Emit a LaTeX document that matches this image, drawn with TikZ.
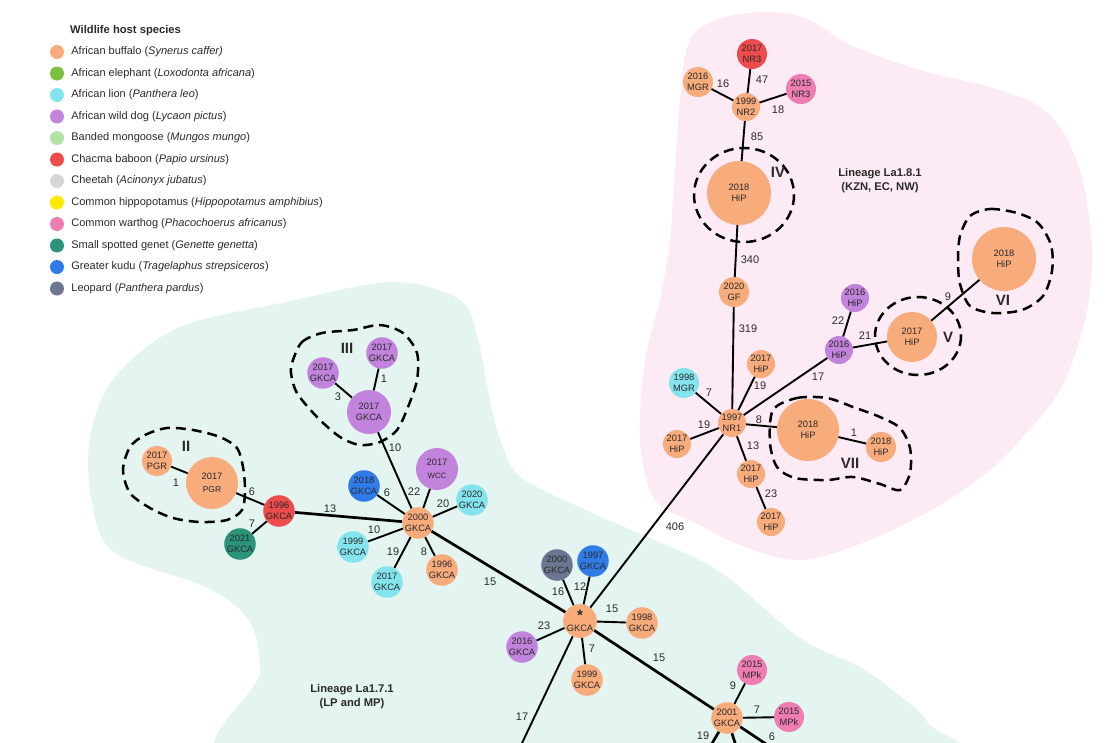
\documentclass[tikz,border=0pt]{standalone}
\usepackage{fontspec}
\setmainfont{Liberation Sans}
\usepackage{xcolor}
\usetikzlibrary{positioning}

\definecolor{buffalo}{HTML}{F8AB7B}
\definecolor{elephant}{HTML}{7BC142}
\definecolor{lion}{HTML}{84E4EE}
\definecolor{wilddog}{HTML}{C283DC}
\definecolor{mongoose}{HTML}{B3E2A6}
\definecolor{baboon}{HTML}{EE4C4C}
\definecolor{cheetah}{HTML}{D6D6D6}
\definecolor{hippo}{HTML}{FFEA00}
\definecolor{warthog}{HTML}{EE7DB2}
\definecolor{genet}{HTML}{2A937A}
\definecolor{kudu}{HTML}{2F7CE8}
\definecolor{leopard}{HTML}{6D7690}
\definecolor{lineagegreen}{HTML}{E4F4F0}
\definecolor{lineagepink}{HTML}{FCEBF4}
\definecolor{inktext}{HTML}{2A2A2A}

\newcommand\hostfont{\fontsize{9.3}{10.8}\selectfont}
\newcommand\distfont{\fontsize{11}{12}\selectfont}
\newcommand\legfont{\fontsize{11}{12}\selectfont}

\tikzset{
  host/.style={circle, inner sep=0pt, minimum size=30pt, align=center,
    font=\hostfont, text=inktext},
  link/.style={line width=1.9pt},
  trunk/.style={line width=2.7pt},
  cladering/.style={line width=2.5pt, dash pattern=on 10pt off 6pt},
  dist/.style={font=\distfont, text=inktext, inner sep=0pt},
  clade/.style={font=\fontsize{15}{15}\selectfont\bfseries, text=inktext},
  legdot/.style={circle, inner sep=0pt, minimum size=14pt},
  legtext/.style={font=\legfont, text=inktext, inner sep=0pt, anchor=west},
  lineage/.style={font=\fontsize{11.2}{14}\selectfont\bfseries, align=center, text=inktext}
}

\begin{document}
\begin{tikzpicture}[x=1pt, y=-1pt]
\useasboundingbox (0,0) rectangle (1110,742);
\clip (0,0) rectangle (1110,742);
\fill[white] (0,0) rectangle (1110,742);

% lineage areas
\fill[lineagegreen] plot[smooth cycle, tension=0.55] coordinates {
  (392,282) (460,300) (478,340) (490,400) (502,445) (522,478) (590,512)
  (650,538) (720,572) (800,638) (860,667) (895,692) (928,723) (945,780)
  (258,780) (260,672) (250,622) (208,588) (115,553) (92,503) (90,437)
  (115,377) (180,327) (287,302)};
\fill[lineagepink] plot[smooth cycle, tension=0.55] coordinates {
  (690,40) (722,18) (770,12) (810,20) (850,45) (920,70) (1000,90)
  (1050,115) (1080,170) (1092,250) (1085,320) (1060,390) (1020,440)
  (990,470) (940,505) (870,540) (800,560) (740,545) (700,525) (655,500)
  (640,440) (645,360) (660,300) (670,240) (675,170) (680,100)};

% legend
\node[legtext, font=\fontsize{11.2}{12}\selectfont\bfseries] (keytitle) at (70,31) {Wildlife host species};
\foreach \c/\t [count=\i] in {
  buffalo/{African buffalo (\textit{Synerus caffer)}},
  elephant/{African elephant (\textit{Loxodonta africana})},
  lion/{African lion (\textit{Panthera leo})},
  wilddog/{African wild dog (\textit{Lycaon pictus})},
  mongoose/{Banded mongoose (\textit{Mungos mungo})},
  baboon/{Chacma baboon (\textit{Papio ursinus})},
  cheetah/{Cheetah (\textit{Acinonyx jubatus})},
  hippo/{Common hippopotamus (\textit{Hippopotamus amphibius})},
  warthog/{Common warthog (\textit{Phacochoerus africanus})},
  genet/{Small spotted genet (\textit{Genette genetta})},
  kudu/{Greater kudu (\textit{Tragelaphus strepsiceros})},
  leopard/{Leopard (\textit{Panthera pardus})}} {
  \node[legdot, fill=\c] (key\i) at (57,{52+21.5*(\i-1)}) {};
  \node[legtext, right=7pt of key\i] (keytext\i) {\t};
}

\node[lineage] (lin18) at (880,181) {Lineage La1.8.1\\(KZN, EC, NW)};
\node[lineage] (lin17) at (352,697) {Lineage La1.7.1\\(LP and MP)};

% clades
\draw[cladering] (744,195) ellipse [x radius=50, y radius=47];
\draw[cladering] (918,336) ellipse [x radius=43, y radius=39];
\draw[cladering] plot[smooth cycle] coordinates {
  (970,216) (990,209) (1017,213) (1038,223) (1051,245) (1052,271) (1043,296)
  (1022,310) (993,313) (970,306) (960,284) (958,260) (960,236)};
\draw[cladering] plot[smooth cycle] coordinates {
  (773,410) (797,398) (827,398) (853,407) (880,417) (900,428) (910,448)
  (910,473) (900,490) (880,484) (853,477) (827,480) (795,478) (777,467)
  (770,443)};
\draw[cladering] plot[smooth cycle] coordinates {
  (130,447) (145,435) (167,428) (193,430) (220,437) (237,448) (243,467)
  (245,490) (242,510) (227,520) (200,522) (173,518) (150,508) (130,493)
  (123,470)};
\draw[cladering] plot[smooth cycle] coordinates {
  (293,360) (302,342) (322,333) (353,330) (380,325) (403,333) (417,353)
  (417,380) (408,407) (397,430) (380,442) (360,445) (340,437) (317,417)
  (297,393) (291,373)};

% La1.8.1 hosts
\node[host, fill=baboon]  (nr3a)  at (752,54)  {2017\\NR3};
\node[host, fill=buffalo] (mgr16) at (698,82)  {2016\\MGR};
\node[host, fill=warthog] (nr3b)  at (801,89)  {2015\\NR3};
\node[host, fill=buffalo, minimum size=28pt] (nr2) at (746,107) {1999\\NR2};
\node[host, fill=buffalo, minimum size=64pt] (hipiv) at (739,193) {2018\\HiP};
\node[host, fill=buffalo] (gf20)  at (734,292) {2020\\GF};
\node[host, fill=buffalo, minimum size=28pt] (nr1) at (732,423) {1997\\NR1};
\node[host, fill=lion]    (mgr98) at (684,383) {1998\\MGR};
\node[host, fill=buffalo, minimum size=28pt] (hipup) at (761,364) {2017\\HiP};
\node[host, fill=buffalo, minimum size=28pt] (hipleft) at (677,444) {2017\\HiP};
\node[host, fill=buffalo, minimum size=28pt] (hipdown) at (751,474) {2017\\HiP};
\node[host, fill=buffalo, minimum size=28pt] (hiplow) at (771,522) {2017\\HiP};
\node[host, fill=buffalo, minimum size=62pt] (hipvii) at (808,430) {2018\\HiP};
\node[host, fill=buffalo] (hipvs) at (881,447) {2018\\HiP};
\node[host, fill=wilddog, minimum size=28pt] (wdhip) at (839,350) {2016\\HiP};
\node[host, fill=wilddog, minimum size=28pt] (wdhiptop) at (855,298) {2016\\HiP};
\node[host, fill=buffalo, minimum size=50pt] (hipv) at (912,337) {2017\\HiP};
\node[host, fill=buffalo, minimum size=64pt] (hipvi) at (1004,259) {2018\\HiP};

% La1.7.1 hosts
\node[host, fill=buffalo] (pgrs)  at (157,461) {2017\\PGR};
\node[host, fill=buffalo, minimum size=52pt] (pgrb) at (212,483) {2017\\[2pt]{\fontsize{8.5}{9}\selectfont PGR}};
\node[host, fill=baboon]  (gk96r) at (279,511) {1996\\GKCA};
\node[host, fill=genet]   (gk21)  at (240,544) {2021\\GKCA};
\node[host, fill=wilddog] (wdtop) at (382,353) {2017\\GKCA};
\node[host, fill=wilddog] (wdleft) at (323,373) {2017\\GKCA};
\node[host, fill=wilddog, minimum size=44pt] (wdbig) at (369,412) {2017\\GKCA};
\node[host, fill=wilddog, minimum size=42pt] (wcc) at (437,469) {2017\\[2pt]{\fontsize{7.8}{8}\selectfont WCC}};
\node[host, fill=kudu]    (kd18)  at (364,486) {2018\\GKCA};
\node[host, fill=lion]    (li20)  at (472,500) {2020\\GKCA};
\node[host, fill=buffalo] (gk00)  at (418,523) {2000\\GKCA};
\node[host, fill=lion]    (li99)  at (353,547) {1999\\GKCA};
\node[host, fill=lion]    (li17)  at (387,582) {2017\\GKCA};
\node[host, fill=buffalo] (bf96)  at (442,570) {1996\\GKCA};
\node[host, fill=leopard] (lp00)  at (557,565) {2000\\GKCA};
\node[host, fill=kudu]    (kd97)  at (593,561) {1997\\GKCA};
\node[host, fill=buffalo] (root)  at (580,621) {{\fontsize{15}{8}\selectfont\bfseries *}\\GKCA};
\node[host, fill=buffalo] (bf98)  at (642,623) {1998\\GKCA};
\node[host, fill=wilddog] (wd16)  at (522,647) {2016\\GKCA};
\node[host, fill=buffalo] (bf99)  at (587,680) {1999\\GKCA};
\node[host, fill=buffalo] (gk01)  at (727,718) {2001\\GKCA};
\node[host, fill=warthog] (mpka)  at (752,670) {2015\\MPk};
\node[host, fill=warthog] (mpkb)  at (789,717) {2015\\MPk};
\coordinate (offa) at (514,760);
\coordinate (offb) at (707,752);
\coordinate (offc) at (738,752);
\coordinate (offd) at (790,760);

\draw[link]
  (nr2) edge (nr3a) (nr2) edge (mgr16) (nr2) edge (nr3b) (nr2) edge (hipiv)
  (hipiv) edge (gf20) (gf20) edge (nr1) (nr1) edge (mgr98) (nr1) edge (hipup)
  (nr1) edge (hipleft) (nr1) edge (hipdown) (hipdown) edge (hiplow)
  (nr1) edge (hipvii) (hipvii) edge (hipvs) (nr1) edge (wdhip)
  (wdhip) edge (wdhiptop) (wdhip) edge (hipv) (hipv) edge (hipvi)
  (nr1) edge (root)
  (pgrs) edge (pgrb) (pgrb) edge (gk96r) (gk96r) edge (gk21)
  (gk00) edge (wdbig) (wdbig) edge (wdtop) (wdbig) edge (wdleft)
  (gk00) edge (kd18) (gk00) edge (wcc) (gk00) edge (li20) (gk00) edge (li99)
  (gk00) edge (li17) (gk00) edge (bf96)
  (root) edge (lp00) (root) edge (kd97) (root) edge (bf98) (root) edge (wd16)
  (root) edge (bf99) (root) edge (offa)
  (gk01) edge (mpka) (gk01) edge (mpkb);
\draw[trunk]
  (gk96r) edge (gk00) (gk00) edge (root) (root) edge (gk01)
  (gk01) edge (offb) (gk01) edge (offc) (gk01) edge (offd);

% SNP distances
\foreach \x/\y/\t [count=\i] in {
  723/84/16, 762/80/47, 778/110/18, 757/137/85, 750/260/340, 748/329/319,
  709/393/7, 760/386/19, 818/377/17, 838/321/22, 865/336/21, 948/297/9,
  759/420/8, 704/425/19, 753/446/13, 854/433/1, 771/494/23, 675/527/406,
  176/483/1, 252/492/6, 252/524/7, 330/509/13, 384/379/1, 338/397/3,
  395/448/10, 387/493/6, 414/492/22, 443/504/20, 374/530/10, 393/552/19,
  424/552/8, 490/582/15, 558/592/16, 580/587/12, 612/609/15, 544/626/23,
  592/649/7, 659/658/15, 522/717/17, 733/686/9, 757/710/7, 703/736/19,
  772/737/6}
  \node[dist] (snp\i) at (\x,\y) {\t};

\node[clade] (cladeii)  at (186,446) {II};
\node[clade] (cladeiii) at (347,348) {III};
\node[clade] (cladeiv)  at (778,172) {IV};
\node[clade] (cladev)   at (948,337) {V};
\node[clade] (cladevi)  at (1003,300) {VI};
\node[clade] (cladevii) at (850,463) {VII};
\end{tikzpicture}
\end{document}
